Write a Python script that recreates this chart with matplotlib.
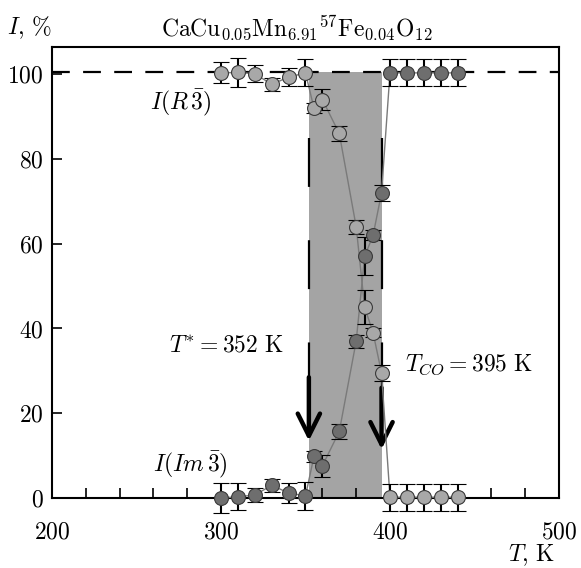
import numpy as np
import matplotlib
matplotlib.use("Agg")
import matplotlib.pyplot as plt

plt.rcParams["mathtext.fontset"] = "cm"
plt.rcParams["font.family"] = "serif"
plt.rcParams["font.serif"] = ["cmr10", "DejaVu Serif"]

# temperatures, K
temps = [300, 310, 320, 330, 340, 350, 355, 360, 370, 380, 385, 390, 395,
         400, 410, 420, 430, 440]
# R-3 phase fraction, %
i_r3 = [100.3, 100.4, 100.1, 97.6, 99.3, 100.3, 92.0, 94.0, 86.0, 64.0, 45.0, 39.0, 29.5,
        0.2, 0.2, 0.2, 0.2, 0.2]
err_r3 = [2.5, 3.5, 2.0, 1.5, 2.2, 3.2, 1.2, 2.4, 1.7, 1.7, 4.0, 1.0, 2.0,
          3.2, 3.2, 3.2, 3.2, 3.2]
# Im-3 phase fraction, %
i_im3 = [0.0, 0.3, 0.7, 3.0, 1.2, 0.5, 9.8, 7.6, 15.7, 37.0, 57.0, 62.0, 72.0,
         100.3, 100.3, 100.3, 100.3, 100.3]
err_im3 = [3.5, 3.2, 1.6, 1.5, 2.3, 3.3, 1.4, 2.6, 1.8, 1.5, 4.5, 1.2, 1.9,
           3.2, 3.2, 3.2, 3.2, 3.2]

t_star = 352
t_co = 395
full = 100.5

fig = plt.figure(figsize=(5.81, 5.68), dpi=100)
ax = fig.add_axes([0.0895, 0.1232, 0.8726, 0.794])

ax.set_xlim(200, 500)
ax.set_ylim(0, 106.4)

# two-phase region
ax.fill_between([t_star, t_co], 0, full, color="#a4a4a4", lw=0, zorder=1)
ax.axhline(full, color="black", lw=1.6, dashes=(8, 6), zorder=2)

# vertical dashed edges + arrows
ax.plot([t_star, t_star], [85, 28.5], color="black", lw=1.6, dashes=(22, 24), zorder=2)
ax.plot([t_co, t_co], [85, 26], color="black", lw=1.6, dashes=(22, 24), zorder=2)
arrow = dict(arrowstyle="->,head_length=0.8,head_width=0.4", lw=3.2, color="black",
             mutation_scale=20, shrinkA=0, shrinkB=0)
ax.annotate("", xy=(t_star, 13.5), xytext=(t_star, 28.5), arrowprops=arrow, zorder=3)
ax.annotate("", xy=(t_co, 11.5), xytext=(t_co, 26), arrowprops=arrow, zorder=3)

# connecting lines
ax.plot(temps, i_r3, color="#7a7a7a", lw=1, zorder=3, clip_on=False)
ax.plot(temps, i_im3, color="#7a7a7a", lw=1, zorder=3, clip_on=False)

for vals, errs, fc in [(i_r3, err_r3, "#a8a8a8"), (i_im3, err_im3, "#6e6e6e")]:
    eb = ax.errorbar(temps, vals, yerr=errs, fmt="o", ms=10, mfc=fc, mec="#3a3a3a",
                     mew=0.8, ecolor="black", elinewidth=1.5, capsize=6, capthick=1.5,
                     zorder=4)
    for art in eb.lines[0:1] + tuple(eb.lines[1]) + tuple(eb.lines[2]):
        art.set_clip_on(False)

# axes styling
for side in ["top", "right", "left", "bottom"]:
    ax.spines[side].set_linewidth(1.5)
ax.set_xticks([200, 300, 400, 500])
ax.set_xticklabels(["$200$", "$300$", "$400$", "$500$"])
ax.set_xticks(np.arange(220, 500, 20), minor=True)
ax.set_yticks([0, 20, 40, 60, 80, 100])
ax.set_yticklabels(["$0$", "$20$", "$40$", "$60$", "$80$", "$100$"])
ax.tick_params(axis="x", which="major", direction="in", length=7, width=1.2,
               pad=17, labelsize=17)
ax.tick_params(axis="x", which="minor", direction="in", length=7, width=1.2)
ax.tick_params(axis="y", direction="in", length=7, width=1.2, pad=6, labelsize=17)
ax.tick_params(top=False, right=False)

# labels
ax.text(276, 93.2, r"$I(R\,\bar{3})$", fontsize=17, ha="center", va="center")
ax.text(282, 7.8, r"$I(Im\,\bar{3})$", fontsize=17, ha="center", va="center")
ax.text(303, 36.1, r"$T^{*} = 352\ \mathrm{K}$", fontsize=17, ha="center", va="center")
ax.text(447, 31.4, r"$T_{CO} = 395\ \mathrm{K}$", fontsize=17, ha="center", va="center")

fig.text(0.05, 0.951, r"$I,\,\%$", fontsize=17, ha="center", va="center")
fig.text(0.511, 0.951,
         r"$\mathrm{CaCu}_{0.05}\mathrm{Mn}_{6.91}{}^{57}\mathrm{Fe}_{0.04}\mathrm{O}_{12}$",
         fontsize=17, ha="center", va="center")
fig.text(0.915, 0.022, r"$T,\,\mathrm{K}$", fontsize=17, ha="center", va="center")

fig.savefig("out.png", dpi=100)
